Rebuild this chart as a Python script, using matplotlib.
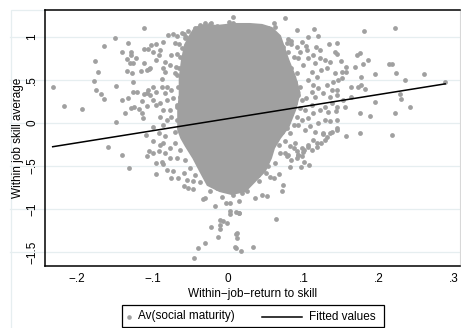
import matplotlib
matplotlib.use('Agg')
import matplotlib.pyplot as plt
from matplotlib.patches import Rectangle
from matplotlib.lines import Line2D

plt.rcParams.update({
    'font.family': ['Liberation Sans', 'DejaVu Sans'],
    'font.size': 8.5,
})

# scattered points around the dense cloud
pts_x = [
    -0.111, -0.150, -0.164, -0.132, -0.141, -0.128, -0.129, -0.111, -0.106, -0.134,
    -0.122, -0.177, -0.130, -0.126, -0.112, -0.173, -0.134, -0.127, -0.115, -0.108,
    -0.105, -0.2325, -0.178, -0.126, -0.148, -0.175, -0.169, -0.126, -0.121, -0.112,
    -0.108, -0.106, -0.165, -0.140, -0.133, -0.114, -0.218, -0.194, -0.129, -0.125,
    -0.118, -0.107, -0.136, -0.114, -0.113, -0.149, -0.109,
    -0.159, -0.140, -0.131, -0.108, -0.105,
    -0.095, -0.086, -0.095, -0.087, -0.081, -0.076, -0.073, -0.066, -0.059, -0.053,
    -0.046, -0.059, -0.055, -0.046, -0.033, -0.031, -0.017, -0.008, -0.002, 0.003,
    0.002, 0.002, 0.014, -0.011, -0.006, -0.001, -0.011, -0.011, -0.022, -0.013,
    0.011, 0.012, -0.031, -0.040, -0.045, 0.011, 0.017, 0.033, 0.015, 0.007,
    0.018, 0.025, -0.024, -0.015, -0.090, -0.084, -0.100, -0.077, -0.068,
    0.073, 0.072, 0.045, 0.052, 0.036, 0.041, 0.064, 0.056, 0.061, 0.067,
    0.082, 0.097, 0.107, 0.101, 0.084, 0.091, 0.098, 0.101, 0.111, 0.118,
    0.123, 0.129, 0.088, 0.091, 0.075, 0.080, 0.012, 0.009, 0.015, 0.011,
    0.006, 0.001, 0.007, -0.024, -0.027, -0.019, 0.031, -0.080, -0.073, -0.068,
    -0.059, -0.056, -0.086, -0.095, -0.102, -0.070, -0.065, -0.099, -0.090, -0.092,
    -0.095, -0.075, -0.068, -0.084, -0.103, -0.077, -0.069, -0.086, -0.070, -0.084,
    -0.088, -0.068, -0.099, -0.095, -0.103, -0.088, -0.081, -0.076, -0.084, -0.099,
    -0.095, -0.090, -0.081, -0.073, -0.086, -0.077, -0.068, -0.090, -0.075, -0.064,
    -0.081, -0.068, -0.099, -0.086, -0.092, -0.084, -0.070,
    0.075, 0.091, 0.114, 0.120, 0.061, 0.062, 0.053, 0.045, 0.080, 0.084,
    0.078, 0.084, 0.091, 0.104, 0.095, 0.117, 0.145, 0.134, 0.122, 0.142,
    0.145, 0.129, 0.106, 0.115, 0.135, 0.150, 0.157, 0.168, 0.171, 0.124,
    0.131, 0.142, 0.151, 0.157, 0.146, 0.151, 0.139, 0.131, 0.138, 0.144,
    0.163, 0.173, 0.126, 0.135, 0.145, 0.153, 0.163, 0.155, 0.145, 0.138,
    0.129, 0.122, 0.133, 0.143, 0.129, 0.135, 0.145, 0.120, 0.109, 0.126,
    0.138, 0.144, 0.115, 0.102, 0.106, 0.098, 0.105, 0.093, 0.113, 0.122,
    0.100, 0.111, 0.118, 0.106, 0.113, 0.120, 0.111, 0.104, 0.115, 0.111,
    0.102, 0.113, 0.106, 0.098, 0.093,
    0.180, 0.221, 0.186, 0.179, 0.214, 0.218, 0.195, 0.223, 0.260, 0.177,
    0.235, 0.175, 0.288, 0.176, 0.182, 0.228, 0.229, 0.195, 0.242, 0.175,
    0.188, 0.222, 0.175, 0.217, 0.156,
    0.135, 0.126, 0.144, 0.113, 0.106, 0.100, 0.093, 0.118, 0.131,
    # points hugging the edge of the solid core
    -0.061, -0.053, -0.044, -0.037, -0.031, -0.023, -0.015, -0.007, -0.003, 0.007,
    0.014, 0.021, 0.029, -0.057, -0.061, -0.064, -0.059, -0.065, -0.059, -0.061,
    -0.066, -0.064, -0.060, -0.067, -0.059, -0.064, -0.059, -0.065, -0.059, -0.050,
    0.073, 0.080, 0.087, 0.078, 0.084, 0.091, 0.082, 0.089, 0.095, 0.087,
    0.093, 0.098, 0.089, 0.095, 0.084, 0.091, 0.080, 0.087, 0.078, 0.071,
    0.082,
    0.067, 0.076, 0.082, 0.089, 0.098, 0.106, 0.069, 0.078, 0.093, 0.062,
    0.053, 0.045, 0.040, 0.051,
    -0.099, -0.086, -0.077, -0.070, -0.064, -0.092, -0.057, -0.050, -0.044, -0.037,
]
pts_y = [
    1.101, 0.985, 0.895, 0.927, 0.826, 0.826, 0.787, 0.864, 0.857, 0.741,
    0.756, 0.717, 0.694, 0.701, 0.694, 0.593, 0.608, 0.585, 0.605, 0.616,
    0.624, 0.415, 0.488, 0.480, 0.434, 0.380, 0.341, 0.360, 0.360, 0.337,
    0.349, 0.384, 0.276, 0.267, 0.287, 0.256, 0.194, 0.163, 0.178, 0.190,
    0.166, 0.201, 0.120, 0.113, 0.055, 0.015, -0.140,
    -0.283, -0.376, -0.527, -0.380, -0.322,
    -0.593, -0.477, -0.465, -0.457, -0.547, -0.640, -0.562, -0.640, -0.729, -0.756,
    -0.767, -0.581, -0.659, -0.671, -0.880, -0.872, -0.969, -0.864, -0.930, -0.930,
    -1.020, -1.058, -1.047, -1.124, -1.143, -1.159, -1.190, -1.233, -1.206, -1.326,
    -1.287, -1.337, -1.399, -1.457, -1.573, -1.453, -1.492, -1.442, -0.910, -0.834,
    -0.814, -0.794, -0.794, -0.756, -0.252, -0.349, -0.349, -0.407, -0.407,
    -0.717, -0.794, -0.841, -0.845, -0.872, -0.678, -1.116, -0.628, -0.640, -0.593,
    -0.512, -0.515, -0.485, -0.457, -0.427, -0.407, -0.387, -0.317, -0.310, -0.279,
    -0.233, -0.194, -0.291, -0.322, -0.349, -0.369, -1.276, -1.445, -1.050, -1.031,
    1.229, 1.171, 1.166, 1.151, 1.120, 1.101, 1.131, 1.023, 1.031, 1.012,
    1.035, 1.003, 0.945, 0.915, 0.907, 0.927, 0.919, 0.829, 0.849, 0.791,
    0.733, 0.791, 0.799, 0.713, 0.636, 0.674, 0.655, 0.636, 0.578, 0.597,
    0.508, 0.558, 0.422, 0.364, 0.326, 0.415, 0.422, 0.384, 0.345, 0.267,
    0.209, 0.236, 0.267, 0.287, 0.151, 0.151, 0.190, 0.073, 0.073, 0.093,
    0.035, 0.035, -0.043, -0.023, -0.120, -0.151, -0.101,
    1.217, 1.081, 1.090, 1.012, 1.166, 1.120, 1.101, 1.062, 0.973, 0.957,
    0.927, 0.915, 0.887, 0.895, 0.829, 0.880, 0.927, 0.915, 0.849, 0.829,
    0.799, 0.733, 0.752, 0.694, 0.713, 0.721, 0.655, 0.655, 0.791, 0.616,
    0.636, 0.578, 0.597, 0.597, 0.500, 0.520, 0.480, 0.442, 0.384, 0.384,
    0.415, 0.422, 0.345, 0.306, 0.326, 0.267, 0.299, 0.183, 0.190, 0.229,
    0.190, 0.151, 0.131, 0.140, 0.035, 0.023, 0.035, -0.003, -0.035, -0.120,
    -0.101, -0.081, -0.101, -0.081, 1.003, 0.945, 0.849, 0.759, 0.791, 0.752,
    0.674, 0.597, 0.538, 0.500, 0.442, 0.403, 0.364, 0.287, 0.306, 0.209,
    0.151, 0.113, 0.055, 0.035, -0.023,
    1.066, 1.101, 0.733, 0.686, 0.686, 0.686, 0.570, 0.578, 0.570, 0.538,
    0.500, 0.810, 0.473, 0.442, 0.399, 0.334, 0.276, 0.244, 0.183, 0.113,
    0.081, 0.113, -0.113, -0.136, -0.151,
    -0.116, -0.131, -0.062, -0.198, -0.276, -0.334, -0.372, -0.236, -0.166,
    # points hugging the edge of the solid core
    1.043, 1.073, 1.101, 1.140, 1.159, 1.166, 1.128, 1.101, 1.081, 1.090,
    1.062, 1.081, 1.101, 0.985, 0.869, 0.771, 0.694, 0.636, 0.558, 0.480,
    0.422, 0.306, 0.248, 0.209, 0.151, 0.073, 0.015, -0.043, -0.120, -0.140,
    0.887, 0.829, 0.771, 0.694, 0.636, 0.578, 0.538, 0.480, 0.422, 0.384,
    0.326, 0.267, 0.229, 0.171, 0.113, 0.073, 0.035, -0.023, -0.062, -0.101,
    -0.120,
    -0.252, -0.213, -0.271, -0.233, -0.291, -0.252, -0.349, -0.387, -0.369, -0.465,
    -0.504, -0.523, -0.601, -0.581,
    -0.213, -0.233, -0.291, -0.233, -0.310, -0.329, -0.430, -0.523, -0.605, -0.686,
]

# outline of the solid core where the points overlap completely
core_x = [-0.066, -0.066, -0.064, -0.064, -0.061, -0.057, -0.050, -0.044, -0.031, -0.015,
          0.009, 0.029, 0.045, 0.058, 0.069, 0.080, 0.089, 0.095, 0.089, 0.080,
          0.069, 0.061, 0.057, 0.049, 0.036, 0.023, 0.005, -0.011, -0.027, -0.037,
          -0.046, -0.056, -0.062]
core_y = [-0.081, 0.151, 0.326, 0.523, 0.733, 0.907, 1.023, 1.105, 1.140, 1.128,
          1.151, 1.151, 1.140, 1.105, 1.012, 0.733, 0.535, 0.349, 0.151, -0.047,
          -0.174, -0.291, -0.407, -0.558, -0.674, -0.791, -0.826, -0.791, -0.721, -0.558,
          -0.407, -0.267, -0.174]

fit_x = [-0.2325, 0.288]
fit_y = [-0.276, 0.455]

xticks = [-0.2, -0.1, 0, 0.1, 0.2, 0.3]
xticklabels = ['\u2212.2', '\u2212.1', '0', '.1', '.2', '.3']
yticks = [1, 0.5, 0, -0.5, -1, -1.5]
yticklabels = ['1', '.5', '0', '\u2212.5', '\u22121', '\u22121.5']

W, H = 461, 328
DOT = '#a0a0a0'
GRID = '#e6eef0'


def fx(x):
    return x / W


def fy(y):
    return 1 - y / H


fig = plt.figure(figsize=(W / 100, H / 100), dpi=100)
ax = fig.add_axes([fx(45), fy(266), (460 - 45) / W, (266 - 10) / H])

ax.fill(core_x, core_y, color=DOT, lw=1.5, zorder=2)
ax.scatter(pts_x, pts_y, s=12, color=DOT, linewidths=0, zorder=2)
ax.plot(fit_x, fit_y, color='black', lw=1.1, zorder=3)

ax.set_xlim(-0.2427, 0.3077)
ax.set_ylim(-1.663, 1.314)
ax.set_xticks(xticks)
ax.set_xticklabels(xticklabels)
ax.set_yticks(yticks)
ax.set_yticklabels(yticklabels, rotation=90, va='center')
ax.tick_params(axis='both', length=0, labelsize=8.5)
ax.tick_params(axis='x', pad=5)
ax.tick_params(axis='y', pad=5)
ax.grid(axis='y', color=GRID, lw=0.9, zorder=0)
ax.set_axisbelow(True)
for yt in yticks:
    ax.plot([-0.084, 0], [yt, yt], transform=ax.get_yaxis_transform(),
            color=GRID, lw=0.9, clip_on=False, zorder=0)

for side in ['left', 'bottom', 'top']:
    ax.spines[side].set_color('black')
    ax.spines[side].set_linewidth(1.1)
ax.spines['right'].set_color('#d8d8d8')
ax.spines['right'].set_linewidth(0.8)

ax.set_xlabel('Within\u2212job\u2212return to skill', labelpad=2)
ax.set_ylabel('Within job skill average')
ax.yaxis.set_label_coords((24 - 45) / (460 - 45), 0.5)

# light outer frame of the graph region
fig.add_artist(Rectangle((fx(10.5), -0.1), 1.2, fy(10) + 0.1, transform=fig.transFigure,
                         fill=False, edgecolor=GRID, lw=0.9, zorder=0))

# legend box drawn by hand to match the layout
fig.add_artist(Rectangle((fx(122), fy(327)), (384 - 122) / W, (327 - 305) / H,
                         transform=fig.transFigure, fill=False, edgecolor='black', lw=0.9))
fig.add_artist(Line2D([fx(129)], [fy(316.5)], transform=fig.transFigure, marker='o',
                      markersize=3.3, color=DOT, markeredgewidth=0, linestyle='none'))
fig.text(fx(138), fy(316.5), 'Av(social maturity)', va='center', ha='left', fontsize=8.5)
fig.add_artist(Line2D([fx(262), fx(302)], [fy(316.5), fy(316.5)], transform=fig.transFigure,
                      color='black', lw=1.1))
fig.text(fx(309), fy(316.5), 'Fitted values', va='center', ha='left', fontsize=8.5)

fig.savefig('out.png', dpi=100)
